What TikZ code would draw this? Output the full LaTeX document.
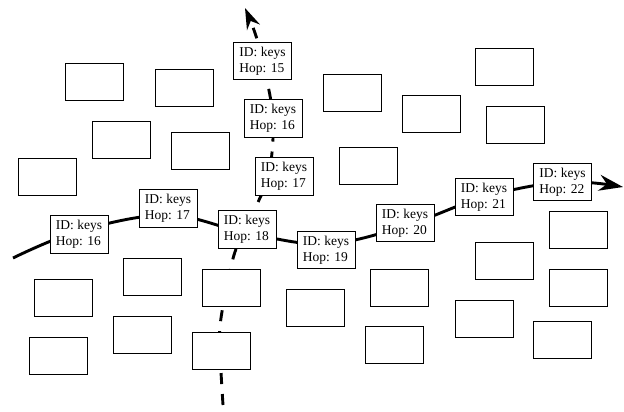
\documentclass[tikz,border=0pt]{standalone}
\usepackage{fontspec}
\setmainfont{Liberation Serif}
\usetikzlibrary{arrows.meta,backgrounds}
\begin{document}
\begin{tikzpicture}[x=1pt,y=-1pt,
  peer/.style={draw=black,line width=0.8pt,fill=white,minimum width=58pt,minimum height=37pt,inner sep=0pt},
  hopbox/.style={peer,minimum height=37.5pt,align=left,font=\fontsize{13.5}{16}\selectfont},
  route/.style={line width=2.9pt},
  lookup/.style={line width=2.9pt,dash pattern=on 11pt off 10pt}]
\useasboundingbox (0,0) rectangle (624,412);

% empty peers
\node[peer] (e1) at (94,81.5) {};
\node[peer] (e2) at (184,87.5) {};
\node[peer] (e3) at (121,139.5) {};
\node[peer] (e4) at (200,150.5) {};
\node[peer] (e5) at (47,176.5) {};
\node[peer] (e6) at (352,92.5) {};
\node[peer] (e7) at (431,113.5) {};
\node[peer] (e8) at (504.5,66.5) {};
\node[peer] (e9) at (515,124.5) {};
\node[peer] (e10) at (368,166) {};
\node[peer] (e11) at (63,297.5) {};
\node[peer] (e12) at (152.5,276.5) {};
\node[peer] (e13) at (231,287.5) {};
\node[peer] (e14) at (315,308) {};
\node[peer] (e15) at (58,355.5) {};
\node[peer] (e16) at (142,334.5) {};
\node[peer] (e17) at (221,350.5) {};
\node[peer] (e18) at (399.5,287.5) {};
\node[peer] (e19) at (394,344.5) {};
\node[peer] (e20) at (504.5,260.5) {};
\node[peer] (e21) at (484,318.5) {};
\node[peer] (e22) at (578,229.5) {};
\node[peer] (e23) at (578,287.5) {};
\node[peer] (e24) at (562,339.5) {};

% labelled peers
\node[hopbox] (h15) at (262.5,61) {ID: keys\\Hop: 15};
\node[hopbox] (h16v) at (273,118.5) {ID: keys\\Hop: 16};
\node[hopbox] (h17v) at (284,176.5) {ID: keys\\Hop: 17};
\node[hopbox] (h16) at (79,234.5) {ID: keys\\Hop: 16};
\node[hopbox] (h17) at (168,208.5) {ID: keys\\Hop: 17};
\node[hopbox] (h18) at (247,229.5) {ID: keys\\Hop: 18};
\node[hopbox] (h19) at (326,250) {ID: keys\\Hop: 19};
\node[hopbox] (h20) at (405,223) {ID: keys\\Hop: 20};
\node[hopbox] (h21) at (484,197) {ID: keys\\Hop: 21};
\node[hopbox] (h22) at (562.5,182) {ID: keys\\Hop: 22};

% free ends and waypoints
\coordinate (rs) at (13,258);
\coordinate (re) at (623,187);
\coordinate (ds) at (223,405);
\coordinate (d1) at (220,350);
\coordinate (d2) at (221,318);
\coordinate (d3) at (234,255);
\coordinate (d4) at (259,200);
\coordinate (d5) at (269,176);
\coordinate (d6) at (255,33);
\coordinate (de) at (245,8);

\begin{scope}[on background layer]
\draw[route,-{Stealth[length=24pt,width=16pt]}] plot[smooth,tension=0.6] coordinates
  {(rs) ([yshift=3.5pt]h16.center) ([yshift=-6.5pt]h17.center) ([yshift=-3.5pt]h18.center)
   ([yshift=6pt]h19.center) ([yshift=-3pt]h20.center) (h21.center) (h22.center) (re)};
\draw[lookup,-{Stealth[length=21pt,width=14pt]}] plot[smooth,tension=0.6] coordinates
  {(ds) (d1) (d2) (d3) (h18.center) (d4) (d5) (h16v.center) (h15.center) (d6) (de)};
\end{scope}
\end{tikzpicture}
\end{document}
